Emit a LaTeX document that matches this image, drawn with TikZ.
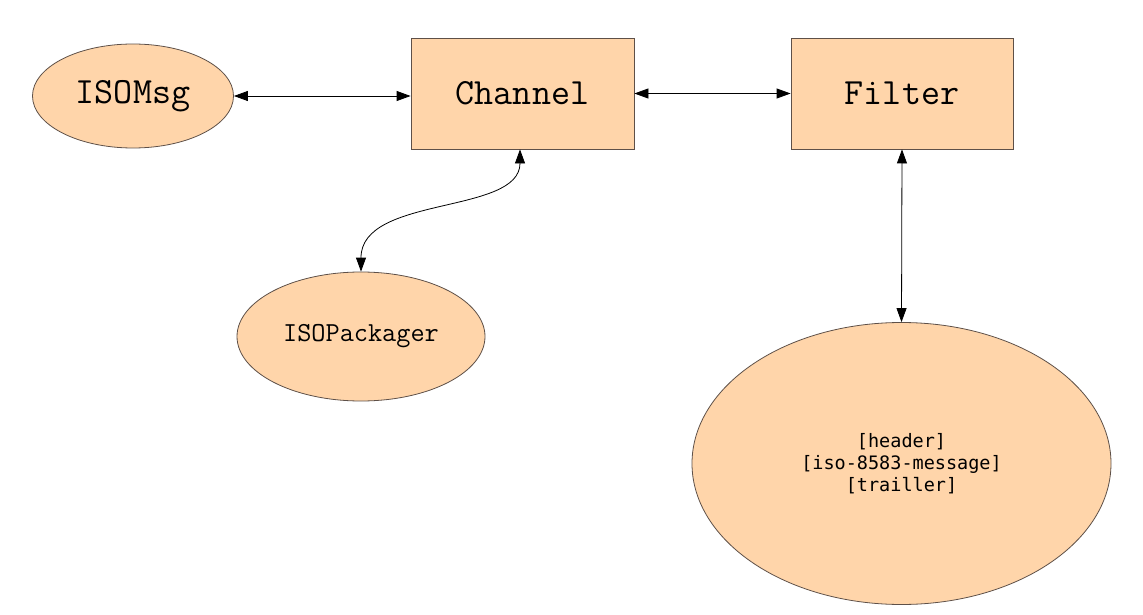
\documentclass[tikz,border=0pt]{standalone}
\usepackage{fontspec}
\newfontfamily\dvmono{DejaVu Sans Mono}
\usetikzlibrary{shapes.geometric,arrows.meta}
\definecolor{peach}{HTML}{FFD5AA}
\definecolor{edgec}{HTML}{5E5048}
\begin{document}
\begin{tikzpicture}[x=1pt,y=-1pt,
  ell/.style={ellipse,draw=edgec,fill=peach,line width=0.8pt,inner sep=0pt},
  box/.style={rectangle,draw=edgec,fill=peach,line width=0.8pt,inner sep=0pt},
  conn/.style={{Triangle[length=14pt,width=10pt]}-{Triangle[length=14pt,width=10pt]},line width=0.8pt,black}]
\useasboundingbox (0,0) rectangle (1143,615);
\node[ell,minimum width=201pt,minimum height=104pt,font=\ttfamily\fontsize{37}{40}\selectfont] (isomsg) at (133,96) {ISOMsg};
\node[box,minimum width=223pt,minimum height=111pt,font=\ttfamily\fontsize{37}{40}\selectfont] (channel) at (522.5,93.5) {Channel};
\node[box,minimum width=222pt,minimum height=111pt,font=\ttfamily\fontsize{37}{40}\selectfont] (filter) at (902,93.5) {Filter};
\node[ell,minimum width=248pt,minimum height=129pt,font=\ttfamily\fontsize{27.5}{30}\selectfont] (packager) at (361,336.5) {ISOPackager};
\node[ell,minimum width=419pt,minimum height=282pt,align=center,font=\dvmono\fontsize{18.5}{22}\selectfont] (msg) at (901.5,463.5) {{[header]}\\{}{[iso-8583-message]}\\{}{[trailler]}};
\draw[conn] (isomsg.east) -- (channel.west |- isomsg.east);
\draw[conn] (channel.south -| 520,0) .. controls (520,215) and (361,195) .. (packager.north);
\draw[conn] (channel.east) -- (filter.west);
\draw[conn] (filter.south) -- (msg.north);
\end{tikzpicture}
\end{document}
